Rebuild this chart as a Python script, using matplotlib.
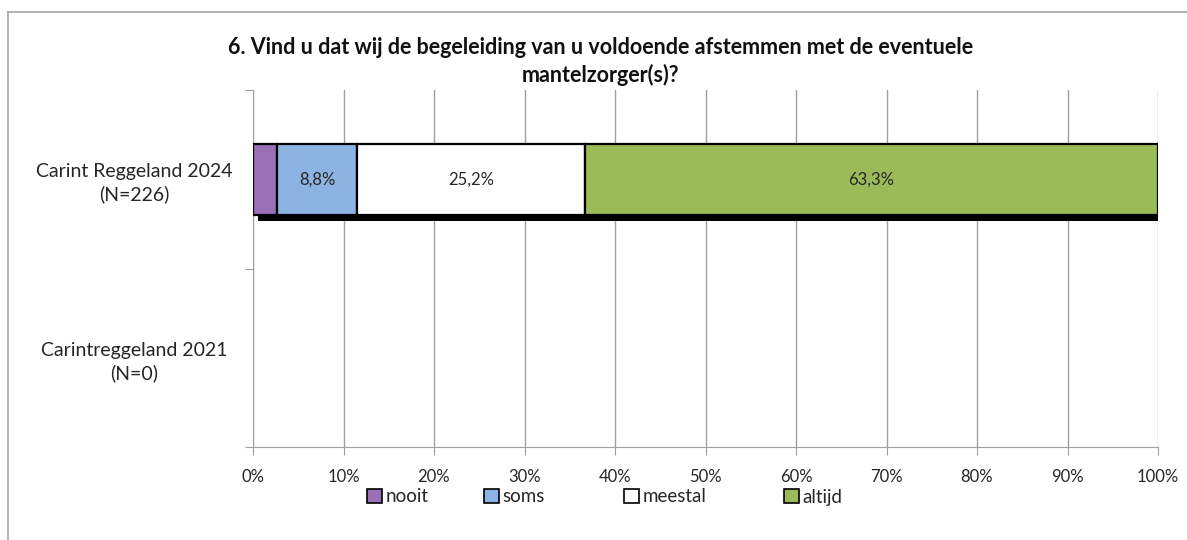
import matplotlib
matplotlib.use("Agg")
import matplotlib.pyplot as plt
import matplotlib.patheffects as pe
from matplotlib.lines import Line2D
from matplotlib.patches import Patch

plt.rcParams['font.family'] = ['Lato', 'DejaVu Sans']

title = "6. Vind u dat wij de begeleiding van u voldoende afstemmen met de eventuele\nmantelzorger(s)?"
categories = ["Carint Reggeland 2024\n(N=226)", "Carintreggeland 2021\n(N=0)"]
series_names = ["nooit", "soms", "meestal", "altijd"]
series_colors = ["#9B6FB5", "#8DB3E2", "#FFFFFF", "#9BBB59"]
values = {
    "nooit":   [2.7, 0.0],
    "soms":    [8.8, 0.0],
    "meestal": [25.2, 0.0],
    "altijd":  [63.3, 0.0],
}
xticks = list(range(0, 101, 10))

fig = plt.figure(figsize=(11.87, 5.40), dpi=100)
ax = fig.add_axes([253/1187, 1-447/540, (1158-253)/1187, (447-90)/540])

ypos = [1, 0]
left = [0.0, 0.0]
shadow = [pe.SimplePatchShadow(offset=(3.5, -4.5), shadow_rgbFace='black', alpha=1.0), pe.Normal()]
for name, col in zip(series_names, series_colors):
    vals = values[name]
    for i, (y, v) in enumerate(zip(ypos, vals)):
        if v <= 0:
            continue
        b = ax.barh(y, v, left=left[i], height=0.4, color=col, edgecolor='black',
                    linewidth=1.6, zorder=3)
        b.patches[0].set_path_effects(shadow)
        if v >= 5:
            ax.text(left[i] + v/2, y, f"{v:.1f}%".replace('.', ','), ha='center', va='center',
                    fontsize=12, color='#262626', zorder=4)
        left[i] += v

ax.set_xlim(0, 100)
ax.set_ylim(-0.5, 1.5)
ax.set_xticks(xticks)
ax.set_xticklabels([f"{t}%" for t in xticks], fontsize=12, color='#262626')
ax.set_yticks([-0.5, 0.5, 1.5], minor=False)
ax.set_yticklabels([])
ax.set_yticks(ypos, minor=True)
ax.set_yticklabels(categories, minor=True, fontsize=14, color='#262626', ha='center',
                   linespacing=1.35)
ax.tick_params(axis='y', which='minor', length=0, pad=85.5)
ax.tick_params(axis='y', which='major', length=6, color='#A0A0A0', direction='out')
ax.tick_params(axis='x', length=6, color='#A0A0A0', direction='out', pad=10)
ax.grid(axis='x', color='#A0A0A0', linewidth=1, zorder=0)
ax.set_axisbelow(True)
for s in ['top', 'right']:
    ax.spines[s].set_visible(False)
ax.spines['left'].set_color('#A0A0A0')
ax.spines['bottom'].set_color('#A0A0A0')

fig.text(601/1187, 1-61.5/540, title, ha='center', va='center', fontsize=15.5,
         fontweight='bold', color='#111111', linespacing=1.35)

legend_x = [367, 484, 624, 784]
for name, col, lx in zip(series_names, series_colors, legend_x):
    h = Patch(facecolor=col, edgecolor='black', linewidth=1.2)
    fig.legend([h], [name], loc='center left', bbox_to_anchor=(lx/1187, 1-497/540),
               frameon=False, fontsize=13.5, handlelength=0.8, handleheight=0.8,
               handletextpad=0.2, borderpad=0, borderaxespad=0, labelcolor='#262626')

# outer chart border
fig.add_artist(Line2D([8/1187, 8/1187], [0, 1-12/540], transform=fig.transFigure, color='#A6A6A6', lw=1.2))
fig.add_artist(Line2D([8/1187, 1], [1-12/540, 1-12/540], transform=fig.transFigure, color='#A6A6A6', lw=1.2))

fig.savefig("out.png", dpi=100)
